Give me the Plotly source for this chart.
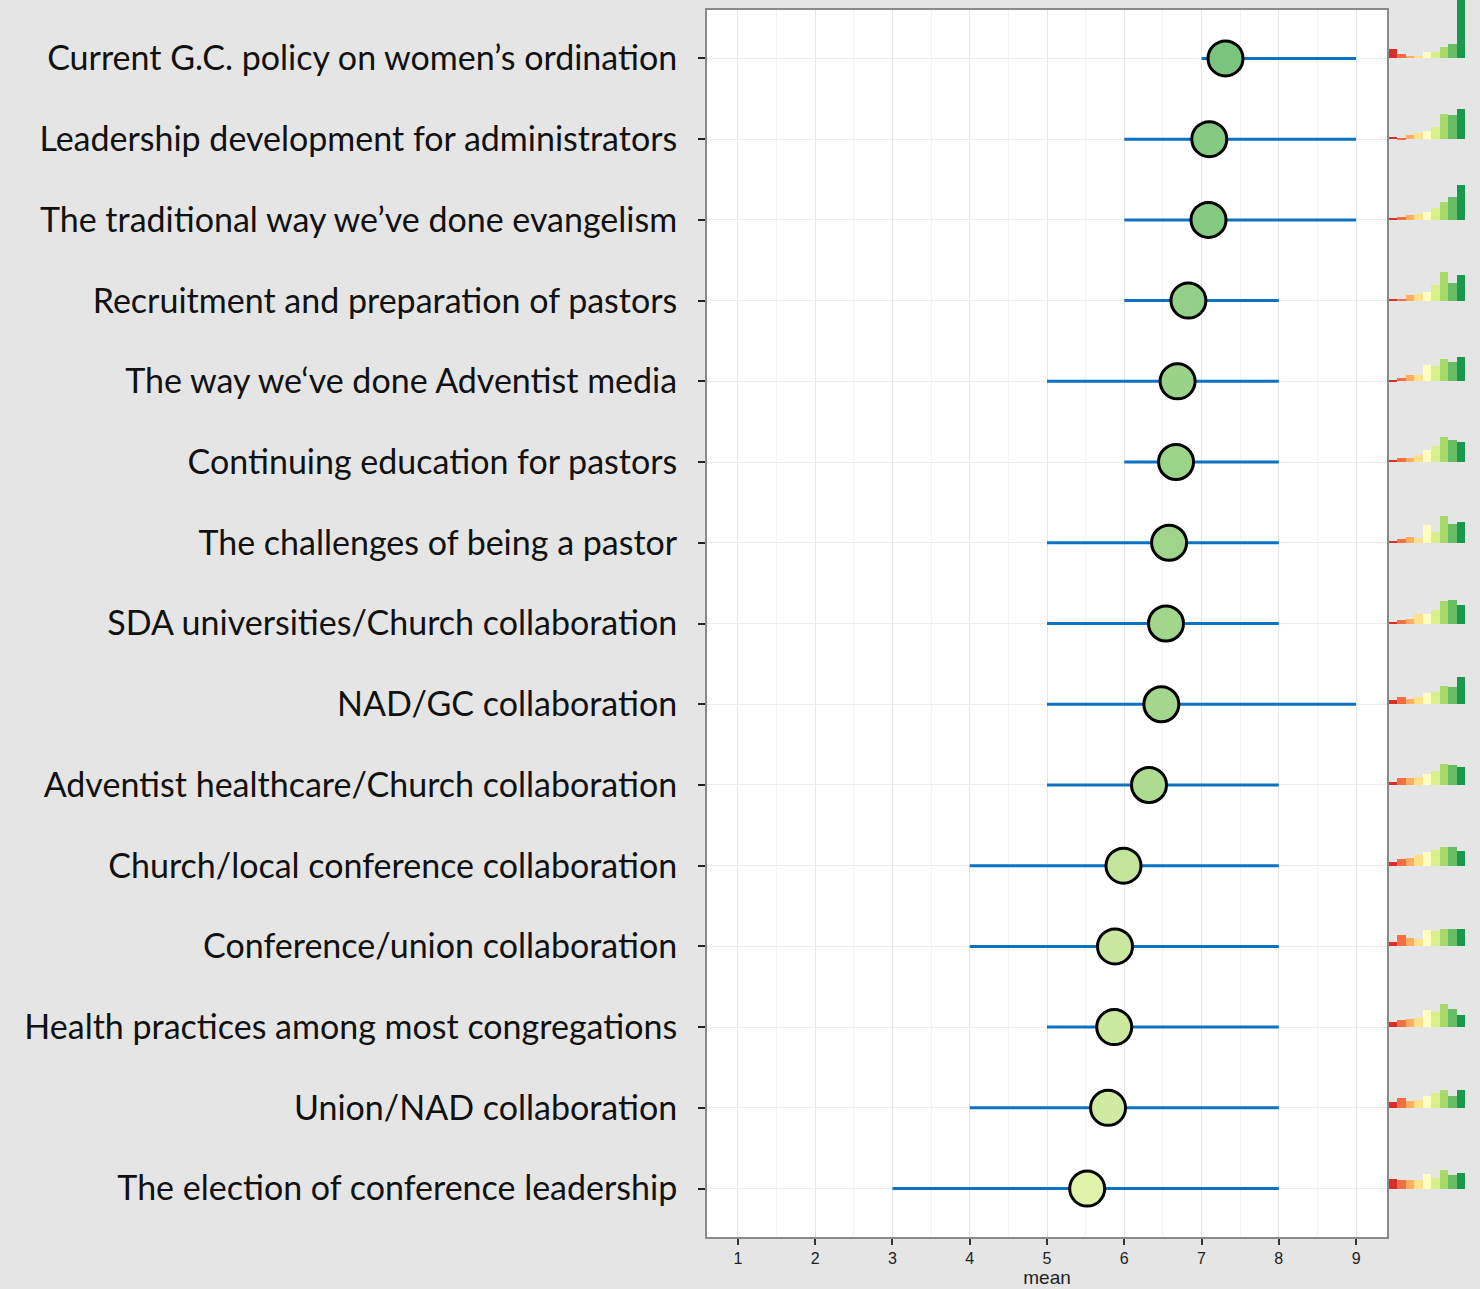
import plotly.graph_objects as go

# ---------------- data (top to bottom as shown) ----------------
topics = [
    "Current G.C. policy on women’s ordination",
    "Leadership development for administrators",
    "The traditional way we’ve done evangelism",
    "Recruitment and preparation of pastors",
    "The way we‘ve done Adventist media",
    "Continuing education for pastors",
    "The challenges of being a pastor",
    "SDA universities/Church collaboration",
    "NAD/GC collaboration",
    "Adventist healthcare/Church collaboration",
    "Church/local conference collaboration",
    "Conference/union collaboration",
    "Health practices among most congregations",
    "Union/NAD collaboration",
    "The election of conference leadership",
]
means = [7.31, 7.10, 7.09, 6.83, 6.69, 6.67, 6.58, 6.54, 6.48, 6.32, 5.99, 5.88, 5.87, 5.79, 5.52]
lows = [7, 6, 6, 6, 5, 6, 5, 5, 5, 5, 4, 4, 5, 4, 3]
highs = [9, 9, 9, 8, 8, 8, 8, 8, 9, 8, 8, 8, 8, 8, 8]

ratings = [1, 2, 3, 4, 5, 6, 7, 8, 9]
hist_counts = [
    [9, 4, 2, 2, 6, 6, 11, 14, 75],
    [2, 1, 4, 6, 8, 12, 25, 24, 30],
    [1, 3, 5, 6, 8, 12, 18, 23, 35],
    [2, 2, 6, 7, 9, 16, 29, 18, 26],
    [1, 3, 6, 6, 16, 15, 22, 19, 24],
    [2, 4, 4, 7, 12, 16, 25, 22, 20],
    [1, 4, 6, 5, 18, 11, 27, 19, 21],
    [2, 4, 5, 10, 10, 14, 23, 24, 19],
    [4, 7, 5, 7, 11, 12, 18, 17, 27],
    [3, 7, 7, 8, 11, 14, 21, 20, 18],
    [4, 7, 8, 11, 14, 16, 19, 19, 15],
    [4, 11, 8, 7, 16, 15, 17, 17, 17],
    [5, 7, 8, 9, 17, 15, 23, 18, 12],
    [6, 10, 7, 8, 12, 15, 18, 12, 18],
    [10, 9, 9, 9, 15, 11, 19, 14, 16],
]
rating_colors = ["#d73027", "#f46d43", "#fdae61", "#fee08b", "#ffffbf",
                 "#d9ef8b", "#a6d96a", "#66bd63", "#1a9850"]
x_ticks = [1, 2, 3, 4, 5, 6, 7, 8, 9]

# ---------------- layout geometry ----------------
W, H = 1480, 1289
n = len(topics)
rows = [n - i for i in range(n)]          # top topic -> highest position
PX_PER_ROW = 1227 / 15.2
count_scale = 1 / PX_PER_ROW               # one count ~ one pixel

fig = go.Figure()

# error bars (range lines)
ex, ey = [], []
for lo, hi, r in zip(lows, highs, rows):
    ex += [lo, hi, None]
    ey += [r, r, None]
fig.add_trace(go.Scatter(x=ex, y=ey, mode="lines",
                         line=dict(color="#0b72c4", width=3),
                         hoverinfo="skip", showlegend=False))

# mean points
fig.add_trace(go.Scatter(
    x=means, y=rows, mode="markers", showlegend=False,
    marker=dict(size=35, color=means, cmin=5.5, cmax=7.3,
                colorscale=[[0, "#e1f2aa"], [0.5, "#a8d98e"], [1, "#7bc47e"]],
                line=dict(color="black", width=3))))

# histograms on the right
for k, rt in enumerate(ratings):
    fig.add_trace(go.Bar(
        x=[rt] * n,
        y=[hist_counts[i][k] * count_scale for i in range(n)],
        base=rows, width=1.0,
        marker=dict(color=rating_colors[k], line=dict(width=0)),
        xaxis="x2", yaxis="y2", showlegend=False, hoverinfo="skip"))

main_right = 680 / 773
fig.update_layout(
    width=W, height=H,
    paper_bgcolor="#e5e5e5", plot_bgcolor="#e5e5e5",
    margin=dict(l=707, r=0, t=0, b=52),
    barmode="overlay", bargap=0,
    font=dict(family="Liberation Sans, Arial, sans-serif", color="#222"),
    xaxis=dict(domain=[0, main_right], range=[0.6, 9.4],
               tickvals=x_ticks, ticks="outside", ticklen=6, tickwidth=1.5,
               tickcolor="#333", tickfont=dict(size=16, color="#222"),
               showgrid=True, gridcolor="#e6e6e6", gridwidth=1,
               minor=dict(dtick=0.5, tick0=0.5, showgrid=True, gridcolor="#f3f3f3", gridwidth=1),
               zeroline=False, showline=True, mirror=True, linecolor="#8a8a8a", linewidth=2,
               title=dict(text="mean", font=dict(size=19, color="#222"), standoff=0),
               anchor="y"),
    yaxis=dict(domain=[0, 1227 / 1237], range=[0.4, 15.6],
               tickvals=rows, ticktext=topics, ticks="outside", ticklen=7, tickwidth=2,
               tickcolor="#222", tickfont=dict(size=34, color="#111", family="Lato, Open Sans, sans-serif"),
               ticklabelstandoff=14,
               showgrid=True, gridcolor="#ececec", gridwidth=1,
               zeroline=False, showline=True, mirror=True, linecolor="#8a8a8a", linewidth=2,
               anchor="x"),
    xaxis2=dict(domain=[682 / 773, 1], range=[0.5, 0.5 + 91 / 8.44],
                visible=False, anchor="y2"),
    yaxis2=dict(domain=[0, 1], range=[0.4, 0.4 + 1237 / PX_PER_ROW],
                visible=False, anchor="x2"),
    shapes=[dict(type="rect", xref="x domain", yref="y domain", x0=0, x1=1, y0=0, y1=1,
                 fillcolor="white", line=dict(width=0), layer="below")],
)

fig.write_html(
    "out.html",
    config={"displayModeBar": False},
    post_script="document.body.style.margin='0';document.body.style.background='#e5e5e5';",
)
